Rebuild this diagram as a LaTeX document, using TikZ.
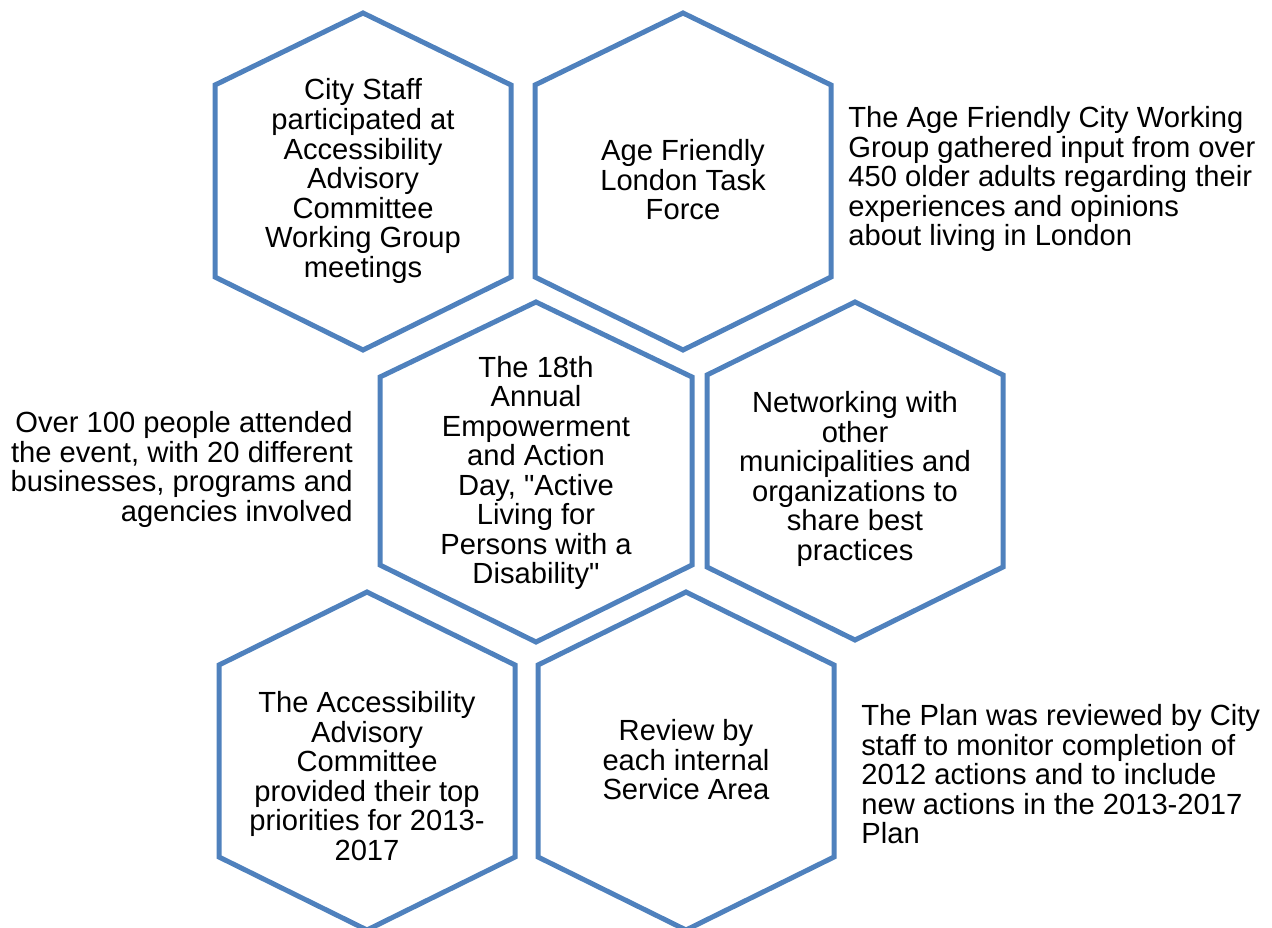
\documentclass[tikz,border=0pt]{standalone}
\usepackage{fontspec}
\setmainfont{Liberation Sans}
\definecolor{hexblue}{HTML}{4F81BD}
\begin{document}
\begin{tikzpicture}[x=0.02cm,y=-0.02cm,
    hexline/.style={draw=hexblue,line width=0.1cm},
    hextext/.style={align=center,inner sep=0pt,font=\fontsize{16.6}{16.8}\selectfont},
    sidetext/.style={inner sep=0pt,font=\fontsize{16.6}{16.8}\selectfont}]
  \useasboundingbox (0,0) rectangle (1272,927);
  \begin{scope}[hexline]
    \draw (363,13) -- ++(148,72) -- ++(0,192) -- ++(-148,73) -- ++(-148,-73) -- ++(0,-192) -- cycle;
    \draw (683,13) -- ++(148,72) -- ++(0,192) -- ++(-148,73) -- ++(-148,-73) -- ++(0,-192) -- cycle;
    \draw (536,302) -- ++(156,75) -- ++(0,188) -- ++(-156,77) -- ++(-156,-77) -- ++(0,-188) -- cycle;
    \draw (855,302) -- ++(148,73) -- ++(0,192) -- ++(-148,73) -- ++(-148,-73) -- ++(0,-192) -- cycle;
    \draw (367,592) -- ++(148,73) -- ++(0,192) -- ++(-148,73) -- ++(-148,-73) -- ++(0,-192) -- cycle;
    \draw (686,592) -- ++(148,73) -- ++(0,192) -- ++(-148,73) -- ++(-148,-73) -- ++(0,-192) -- cycle;
  \end{scope}
  \draw
    (363,181) node[hextext] (staff) {City Staff\\participated at\\Accessibility\\Advisory\\Committee\\Working Group\\meetings}
    (683,180) node[hextext] (taskforce) {Age Friendly\\London Task\\Force}
    (536,473) node[hextext] (empower) {The 18th\\Annual\\Empowerment\\and Action\\Day, \textquotedbl Active\\Living for\\Persons with a\\Disability\textquotedbl}
    (855,479) node[hextext] (network) {Networking with\\other\\municipalities and\\organizations to\\share best\\practices}
    (367,776) node[hextext] (priorities) {The Accessibility\\Advisory\\Committee\\provided their top\\priorities for 2013-\\2017}
    (686,760) node[hextext] (review) {Review by\\each internal\\Service Area};
  \draw
    (848,106) node[sidetext,anchor=north west,align=left] (agenote) {The Age Friendly City Working\\Group gathered input from over\\450 older adults regarding their\\experiences and opinions\\about living in London}
    (353,411) node[sidetext,anchor=north east,align=right] (eventnote) {Over 100 people attended\\the event, with 20 different\\businesses, programs and\\agencies involved}
    (861,704) node[sidetext,anchor=north west,align=left] (plannote) {The Plan was reviewed by City\\staff to monitor completion of\\2012 actions and to include\\new actions in the 2013-2017\\Plan};
\end{tikzpicture}
\end{document}
